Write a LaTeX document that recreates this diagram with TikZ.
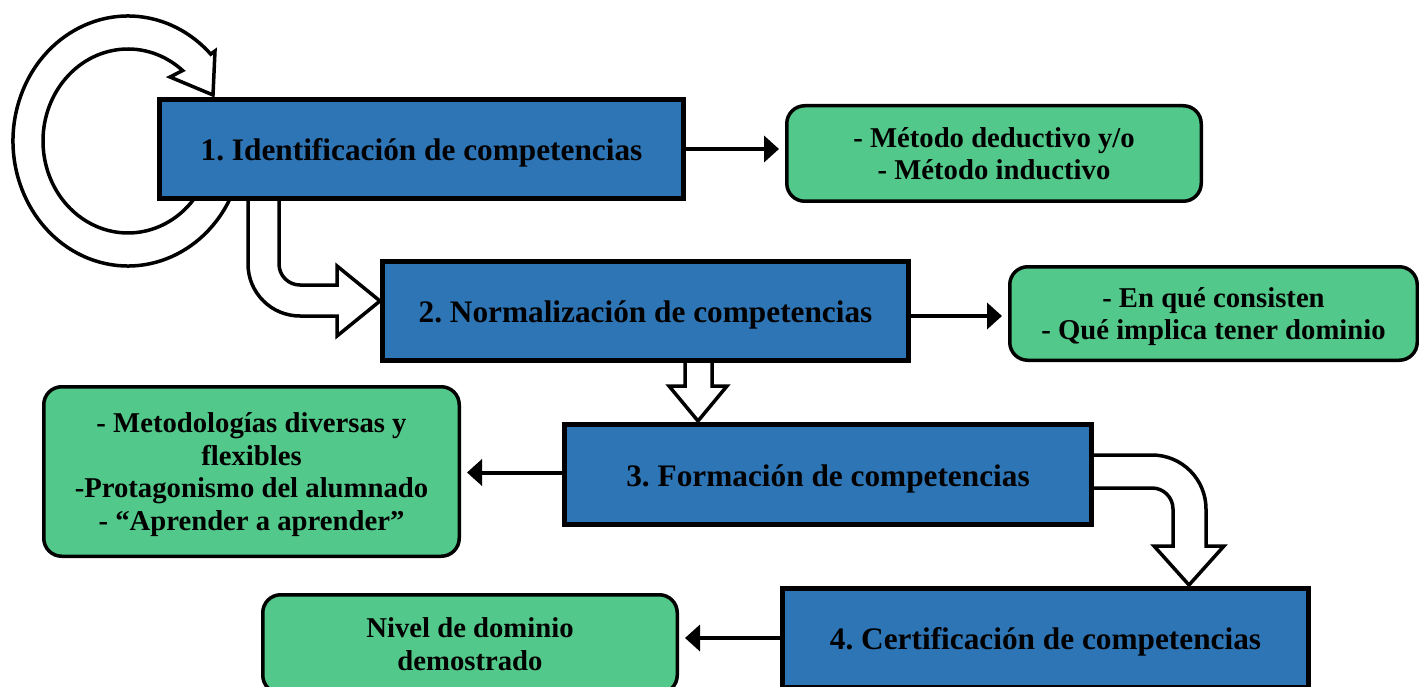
\documentclass[tikz,border=0pt]{standalone}
\usepackage{fontspec}
\setmainfont{Liberation Serif}
\usetikzlibrary{arrows.meta}
\definecolor{boxblue}{HTML}{2E75B6}
\definecolor{boxgreen}{HTML}{52C98A}
\frenchspacing
\begin{document}
\begin{tikzpicture}[x=1pt,y=-1pt,
 bluebox/.style={draw=black, line width=5pt, fill=boxblue, inner sep=0pt, text height=23.7pt, text depth=0pt, font=\bfseries\fontsize{31.3}{36}\selectfont},
 greenbox/.style={draw=black, line width=3.5pt, fill=boxgreen, rounded corners=18pt, inner sep=0pt, align=center, text depth=0pt, font=\bfseries\fontsize{28.7}{32.5}\selectfont},
 blockarrow/.style={draw=black, line width=3.5pt, fill=white, line join=miter},
 conn/.style={line width=4pt, -{Triangle[length=15pt,width=26pt]}, shorten >=6pt},
]
\useasboundingbox (0,0) rectangle (1419,687);
\clip (0,0) rectangle (1419,687);

% block arrows (behind the boxes)
\draw[blockarrow] ([shift={(20:115 and 125)}]128,141) arc[start angle=20, end angle=316, x radius=115, y radius=125]
  -- (215,51) -- (213,95) -- (170,77)
  -- ([shift={(310:85 and 92)}]128,141) arc[start angle=310, end angle=20, x radius=85, y radius=92] -- cycle;

\draw[blockarrow] (248,196) -- (248,264) arc[start angle=180, end angle=90, radius=52]
  -- (337,316) -- (337,336) -- (380,301) -- (337,266) -- (337,285) -- (300,285)
  arc[start angle=90, end angle=180, radius=21] -- (279,196) -- cycle;

\draw[blockarrow] (685,360) -- (685,386) -- (669,386) -- (698,421) -- (727,386) -- (712,386) -- (712,360) -- cycle;

\draw[blockarrow] (1088,455) -- (1152,455) arc[start angle=270, end angle=360, radius=54]
  -- (1206,546) -- (1224,546) -- (1189,585) -- (1154,546) -- (1173,546) -- (1173,509)
  arc[start angle=0, end angle=-90, radius=21] -- (1088,488) -- cycle;

% process boxes
\node[bluebox, minimum width=524pt, minimum height=99pt] (b1) at (421.5,149) {1. Identificación de competencias};
\node[bluebox, minimum width=526pt, minimum height=99pt] (b2) at (645.5,311) {2. Normalización de competencias};
\node[bluebox, minimum width=527pt, minimum height=100pt] (b3) at (828,474.5) {3. Formación de competencias};
\node[bluebox, minimum width=526pt, minimum height=99pt] (b4) at (1045.5,638) {4. Certificación de competencias};

% note boxes
\node[greenbox, minimum width=414.5pt, minimum height=95.5pt] (g1) at (994,153.5) {- Método deductivo y/o\\- Método inductivo};
\node[greenbox, minimum width=407.5pt, minimum height=93.5pt] (g2) at (1213.5,313.5) {- En qué consisten\\- Qué implica tener dominio};
\node[greenbox, minimum width=415.5pt, minimum height=169.5pt] (g3) at (251.5,471.5) {- Metodologías diversas y\\flexibles\\-Protagonismo del alumnado\\- “Aprender a aprender”};
\node[greenbox, minimum width=414.5pt, minimum height=98.5pt] (g4) at (470,644) {Nivel de dominio\\demostrado};

% connectors
\draw[conn] (b1.east) -- (g1.west |- b1.east);
\draw[conn] ([yshift=-5pt]b2.east) -- ([yshift=-5pt]g2.west |- b2.east);
\draw[conn] ([yshift=2pt]b3.west) -- ([yshift=2pt]g3.east |- b3.west);
\draw[conn] (b4.west) -- (g4.east |- b4.west);
\end{tikzpicture}
\end{document}
